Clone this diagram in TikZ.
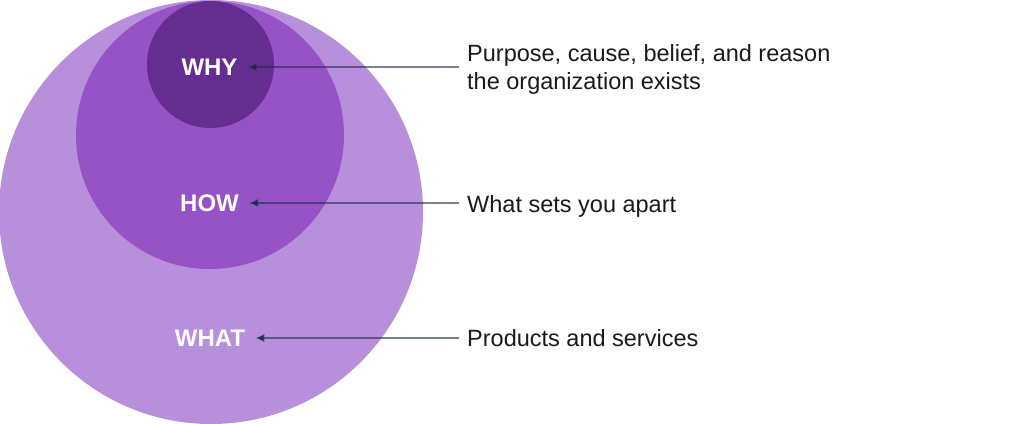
\documentclass[tikz,border=0pt]{standalone}
\usepackage{fontspec}
\setmainfont{Liberation Sans}
\usetikzlibrary{arrows.meta}
\definecolor{whatpurple}{HTML}{B88FDA}
\definecolor{howpurple}{HTML}{9553C5}
\definecolor{whypurple}{HTML}{652D90}
\definecolor{pointer}{HTML}{1F2D4D}
\definecolor{desctext}{HTML}{1A1A1A}

\begin{document}
\begin{tikzpicture}[x=10pt,y=10pt,
  ring label/.style={text=white, font=\fontsize{24}{28}\selectfont\bfseries},
  ring desc/.style={anchor=base west, align=left, text=desctext, font=\fontsize{23.5}{28}\selectfont},
  pointer line/.style={draw=pointer, draw opacity=0.6, line width=1.2pt,
    -{Latex[length=9pt,width=8pt]}, shorten <=8pt, shorten >=10pt}]
\tikzstyle{every node}+=[inner sep=0pt]
\useasboundingbox (0,0) rectangle (102.4,-42.3);
\fill [white] (0,0) rectangle (102.4,-42.3);
% the three rings
\fill [whatpurple] (21.1,-21.2) circle (21.2);
\fill [howpurple] (21.0,-13.5) circle (13.4);
\fill [whypurple] (21.05,-6.45) circle (6.35);
\node [ring label] (why) at (20.95,-6.7) {WHY};
\node [ring label] (how) at (20.95,-20.3) {HOW};
\node [ring label] (what) at (21.0,-33.8) {WHAT};
% descriptions
\node [ring desc] (whydesc) at (46.7,-8.9) {Purpose, cause, belief, and reason\\the organization exists};
\node [ring desc] (howdesc) at (46.7,-21.2) {What sets you apart};
\node [ring desc] (whatdesc) at (46.7,-34.65) {Products and services};
\draw [pointer line] (why -| whydesc.west) -- (why);
\draw [pointer line] (how -| howdesc.west) -- (how);
\draw [pointer line] (what -| whatdesc.west) -- (what);
\end{tikzpicture}
\end{document}
